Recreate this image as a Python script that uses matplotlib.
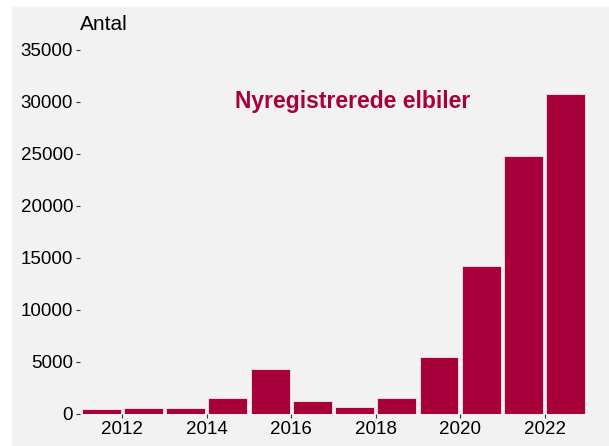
import matplotlib
matplotlib.use("Agg")
import matplotlib.pyplot as plt
from matplotlib.patches import Rectangle

years = [2011, 2012, 2013, 2014, 2015, 2016, 2017, 2018, 2019, 2020, 2021, 2022]
values = [480, 560, 560, 1570, 4300, 1250, 700, 1540, 5510, 14230, 24840, 30800]
xticks = [2012, 2014, 2016, 2018, 2020, 2022]
yticks = [0, 5000, 10000, 15000, 20000, 25000, 30000, 35000]
label_text = "Nyregistrerede elbiler"
ylabel_text = "Antal"

bar_color = "#A8003A"
panel = "#F2F2F2"

plt.rcParams['font.family'] = ['Liberation Sans', 'DejaVu Sans']

fig = plt.figure(figsize=(6.09, 4.46), dpi=100, facecolor="white")
bg = Rectangle((12/609, 0), 1 - 12/609, 1 - 7/446,
               transform=fig.transFigure, facecolor=panel,
               edgecolor="none", zorder=-10)
fig.add_artist(bg)

ax = fig.add_axes([80/609, 1 - 414/446, (589 - 80)/609, (414 - 39.6)/446])
ax.set_facecolor(panel)
ax.bar([y + 0.5 for y in years], values, width=0.92, color=bar_color,
       edgecolor="#F5E6EA", linewidth=0.6)
ax.set_xlim(2011.0, 2023.05)
ax.set_ylim(0, 36000)
ax.set_xticks(xticks)
ax.set_xticklabels([str(t) for t in xticks])
ax.set_yticks(yticks)
ax.set_yticklabels([str(t) for t in yticks])
for s in ax.spines.values():
    s.set_visible(False)
ax.tick_params(axis='both', labelsize=13.5, colors="#333333", labelcolor="black",
               length=3, width=0.8)
ax.tick_params(axis='y', pad=2)
ax.tick_params(axis='x', pad=2)

ax.text(2017.45, 30050, label_text, color=bar_color, fontsize=16.5,
        fontweight='bold', ha='center', va='center')
fig.text(80/609, 1 - 24/446, ylabel_text, fontsize=15, ha='left', va='center')

fig.savefig("out.png", dpi=100, facecolor=fig.get_facecolor())
